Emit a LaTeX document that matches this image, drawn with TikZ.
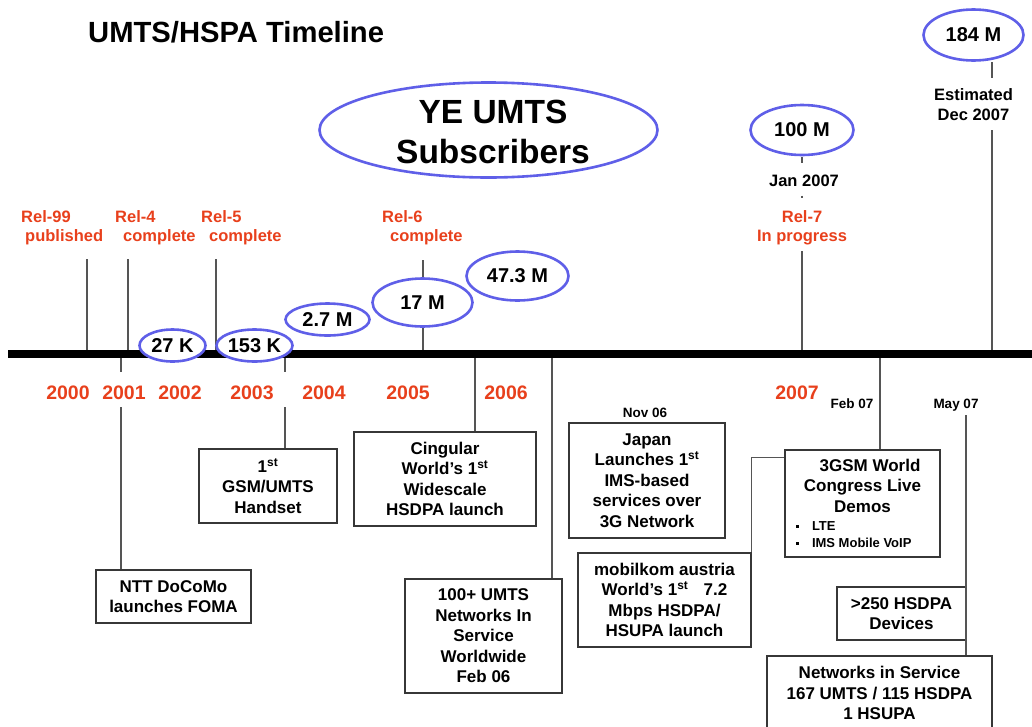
\documentclass[tikz,border=0pt]{standalone}
\usepackage{fontspec}
\setmainfont{Liberation Sans}
\usetikzlibrary{shapes.geometric,calc}
\definecolor{relred}{RGB}{232,64,28}
\definecolor{ellblue}{RGB}{95,95,232}
\definecolor{lgray}{RGB}{85,85,85}
\definecolor{bgray}{RGB}{55,55,55}
\newcommand{\myfs}[2]{\fontsize{#1}{#2}\selectfont\bfseries}
\newcommand{\myst}{\textsuperscript{st}}
\newcommand{\mybul}{\raisebox{3pt}{\rule{3pt}{3pt}}}
\begin{document}
\begin{tikzpicture}[x=1pt,y=-1pt,
  ell/.style={ellipse,draw=ellblue,line width=2.6pt,fill=white,inner sep=0pt,font=\myfs{20}{22}},
  box/.style={draw=bgray,line width=1.2pt,fill=white,align=center,inner sep=0pt,font=\myfs{17}{20.5}},
  rel/.style={text=relred,align=left,inner sep=0pt,font=\myfs{16.5}{19}},
  yr/.style={text=relred,inner sep=0pt,font=\myfs{19.5}{22}},
  lab/.style={inner sep=0pt,align=center,font=\myfs{16.5}{20}},
  small/.style={inner sep=0pt,font=\myfs{13.5}{16}},
  conn/.style={draw=lgray,line width=1.1pt},
  bar/.style={line width=8pt,draw=black}]
\useasboundingbox (0,0) rectangle (1032,726);

% title
\node[inner sep=0pt,anchor=base west,font=\myfs{29.2}{31}] (title) at (88,42) {UMTS/HSPA Timeline};

% release labels (base = baseline of the last line)
\node[rel,anchor=base west] (r99) at (21,241) {Rel-99\\\hspace*{4pt}published};
\node[rel,anchor=base west] (r4) at (115,241) {Rel-4\\\hspace*{8pt}complete};
\node[rel,anchor=base west] (r5) at (201,241) {Rel-5\\\hspace*{8pt}complete};
\node[rel,anchor=base west] (r6) at (382,241) {Rel-6\\\hspace*{8pt}complete};
\node[rel,align=center,anchor=base] (r7) at (802,241) {Rel-7\\In progress};

% date labels
\node[lab,anchor=base] (jan) at (804,186) {Jan 2007};
\node[lab,anchor=base] (est) at (973.5,120) {Estimated\\Dec 2007};
\node[small,anchor=base] (nov) at (645,417) {Nov 06};
\node[small,anchor=base] (feb) at (852,408) {Feb 07};
\node[small,anchor=base] (may) at (956,408) {May 07};

% years
\node[yr,anchor=base] (y00) at (68,399) {2000};
\node[yr,anchor=base] (y01) at (124,399) {2001};
\node[yr,anchor=base] (y02) at (180,399) {2002};
\node[yr,anchor=base] (y03) at (252,399) {2003};
\node[yr,anchor=base] (y04) at (324,399) {2004};
\node[yr,anchor=base] (y05) at (408,399) {2005};
\node[yr,anchor=base] (y06) at (506,399) {2006};
\node[yr,anchor=base] (y07) at (797,399) {2007};

% coordinates for connector ends
\coordinate (barL) at (8,354);
\coordinate (barR) at (1032,354);
\coordinate (t99) at (87,259);
\coordinate (t4) at (128,259);
\coordinate (t5) at (216,259);
\coordinate (t6) at (423,260);
\coordinate (t7) at (802,251);
\coordinate (t184) at (992,130);
\coordinate (a184) at (992,62);
\coordinate (b184) at (992,78);
\coordinate (a100) at (802,157);
\coordinate (b100) at (802,163);
\coordinate (dA) at (802,195.5);
\coordinate (dB) at (802,197.5);
\coordinate (u01) at (121,358);
\coordinate (v01) at (121,372);
\coordinate (w01) at (121,407);
\coordinate (u03) at (285,358);
\coordinate (v03) at (285,372);
\coordinate (w03) at (285,407);
\coordinate (u06) at (475,358);
\coordinate (u06b) at (552,358);
\coordinate (u07) at (880,358);
\coordinate (u07b) at (966,415);

% upper connectors
\draw[conn] (t99) -- (t99 |- barL);
\draw[conn] (t4) -- (t4 |- barL);
\draw[conn] (t5) -- (t5 |- barL);
\draw[conn] (t6) -- (t6 |- barL);
\draw[conn] (t7) -- (t7 |- barL);
\draw[conn] (t184) -- (t184 |- barL);
\draw[conn] (a184) -- (b184);
\draw[conn] (a100) -- (b100);
\draw[conn] (dA) -- (dB);

% timeline bar
\draw[bar] (barL) -- (barR);

% ellipses
\node[ell,minimum width=338pt,minimum height=95pt] (eye) at (488.5,130) {};
\node[inner sep=0pt,align=center,font=\myfs{33.5}{40}] (yetxt) at (493,132) {YE UMTS\\Subscribers};
\node[ell,minimum width=66pt,minimum height=32pt] (e27k) at (172.5,345.5) {27 K};
\node[ell,minimum width=76pt,minimum height=32pt] (e153k) at (254.5,345.5) {153 K};
\node[ell,minimum width=84pt,minimum height=32pt] (e27m) at (327.5,319.5) {2.7 M};
\node[ell,minimum width=100pt,minimum height=48pt] (e17m) at (422.5,302.5) {17 M};
\node[ell,minimum width=102pt,minimum height=49pt] (e47m) at (517.5,276) {47.3 M};
\node[ell,minimum width=103pt,minimum height=50pt] (e100m) at (802,130) {100 M};
\node[ell,minimum width=100pt,minimum height=51pt] (e184m) at (973.5,35) {184 M};

% boxes
\node[box,minimum width=155pt,minimum height=53pt] (ntt) at (173.5,596.5) {NTT DoCoMo\\launches FOMA};
\node[box,minimum width=138pt,minimum height=74pt] (gsmh) at (268,486) {1\myst\\GSM/UMTS\\Handset};
\node[box,minimum width=182pt,minimum height=94pt] (cing) at (445,479) {Cingular\\World’s 1\myst\\Widescale\\HSDPA launch};
\node[box,minimum width=157pt,minimum height=114pt] (u100) at (483.5,636) {100+ UMTS\\Networks In\\Service\\Worldwide\\Feb 06};
\node[box,minimum width=156pt,minimum height=115pt] (japan) at (647,480.5) {Japan\\Launches 1\myst\\IMS-based\\services over\\3G Network};
\node[box,minimum width=173pt,minimum height=94pt] (mobil) at (664.5,600) {mobilkom austria\\World’s 1\myst\hspace{0.9em}7.2\\Mbps HSDPA/\\HSUPA launch};
\node[box,minimum width=155pt,minimum height=107pt] (gsm3) at (862.5,503.5) {\hspace*{15pt}3GSM World\\Congress Live\\Demos\\[-2pt]{\myfs{13}{17}\makebox[135pt][l]{\hspace*{1pt}\mybul\hspace{13pt}LTE}}\\[-3.5pt]{\myfs{13}{17}\makebox[135pt][l]{\hspace*{1pt}\mybul\hspace{13pt}IMS Mobile VoIP}}};
\node[box,minimum width=129pt,minimum height=53pt] (h250) at (901.5,613.5) {>250 HSDPA\\Devices};
\node[box,minimum width=225pt,minimum height=74pt] (netw) at (879.5,693) {Networks in Service\\167 UMTS / 115 HSDPA\\1 HSUPA};

% lower connectors
\draw[conn] (u01) -- (v01);
\draw[conn] (w01) -- (ntt.north -| w01);
\draw[conn] (u03) -- (v03);
\draw[conn] (w03) -- (gsmh.north -| w03);
\draw[conn] (u06) -- (cing.north -| u06);
\draw[conn] (u06b) -- (u100.north -| u06b);
\draw[conn] (u07) -- (gsm3.north -| u07);
\draw[conn] (u07b) -- (netw.north -| u07b);
\draw[conn] (mobil.north east) |- ($(gsm3.north west)+(0,8)$);
\end{tikzpicture}
\end{document}
